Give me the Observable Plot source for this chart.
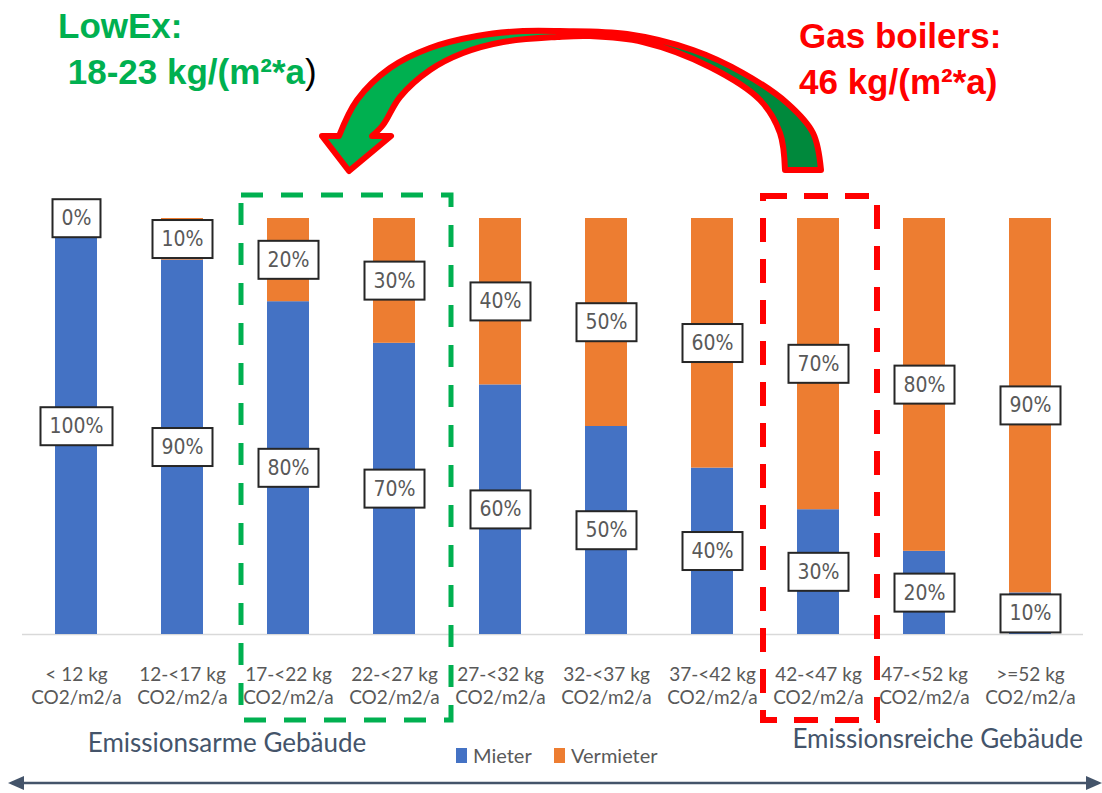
<!DOCTYPE html>
<html>
<head>
<meta charset="utf-8">
<script src="https://cdn.jsdelivr.net/npm/d3@7"></script>
<script src="https://cdn.jsdelivr.net/npm/@observablehq/plot@0.6"></script>
<style>
  body { margin: 0; background: #fff; }
  #chart svg { display: block; }
</style>
</head>
<body>
<div id="chart"></div>
<script>
// Emission classes (kg CO2 per m² and year)
const categories = [
  "< 12 kg CO2/m2/a", "12-<17 kg CO2/m2/a", "17-<22 kg CO2/m2/a", "22-<27 kg CO2/m2/a",
  "27-<32 kg CO2/m2/a", "32-<37 kg CO2/m2/a", "37-<42 kg CO2/m2/a", "42-<47 kg CO2/m2/a",
  "47-<52 kg CO2/m2/a", ">=52 kg CO2/m2/a"
];
// Share of the CO2 cost carried by tenants (Mieter) and landlords (Vermieter), in %
const mieter    = [100, 90, 80, 70, 60, 50, 40, 30, 20, 10];
const vermieter = [0, 10, 20, 30, 40, 50, 60, 70, 80, 90];

const seriesNames  = ["Mieter", "Vermieter"];
const seriesColors = ["#4472c4", "#ed7d31"];

const lowLabel  = "Emissionsarme Gebäude";
const highLabel = "Emissionsreiche Gebäude";
const lowExTitle = ["LowEx:", " 18-23 kg/(m²*a"];
const gasTitle   = ["Gas boilers:", "46 kg/(m²*a)"];
const lowExRange  = [categories[2], categories[3]];
const gasCategory = categories[7];

const rows = categories.flatMap((cat, i) => [
  {cat, series: seriesNames[0], value: mieter[i]},
  {cat, series: seriesNames[1], value: vermieter[i]}
]);

const W = 1102, H = 793;
const labelFont = "'Liberation Sans Narrow', 'DejaVu Sans Condensed', Lato, sans-serif";

const plot = Plot.plot({
  width: W,
  height: H,
  marginTop: 218,
  marginBottom: 159,
  marginLeft: 22,
  marginRight: 19,
  style: {background: "#fff", overflow: "visible", fontFamily: "Lato, sans-serif"},
  x: {domain: categories, padding: 0, axis: null},
  y: {domain: [0, 100], axis: null},
  color: {domain: seriesNames, range: seriesColors},
  marks: [
    Plot.ruleY([0], {stroke: "#d9d9d9", strokeWidth: 1.5}),
    Plot.barY(rows, Plot.stackY({x: "cat", y: "value", fill: "series", insetLeft: 32, insetRight: 32})),
    Plot.text(rows, Plot.stackY({
      x: "cat", y: "value", text: d => d.value + "%",
      fontSize: 21, fill: "#595959", fontFamily: labelFont
    })),
    Plot.text(categories, {
      x: d => d,
      text: d => d.replace(" CO2", "\nCO2"),
      frameAnchor: "bottom", lineAnchor: "top", dy: 30,
      fontSize: 19, lineHeight: 1.21, fill: "#595959", fontFamily: "Lato, sans-serif"
    })
  ]
});

document.getElementById("chart").append(plot);

const svg = d3.select(plot);
const xs = plot.scale("x");
const ys = plot.scale("y");
const x = v => xs.apply(v);
const y = v => ys.apply(v);
const bw = xs.bandwidth;

// white boxes behind the percentage labels (same transform as each label)
svg.selectAll("text").filter(function() {
  return /%$/.test(this.textContent) && this.children.length === 0;
}).each(function() {
  const b = this.getBBox();
  const cy = b.y + b.height / 2;
  d3.select(this.parentNode).insert("rect", () => this)
    .attr("transform", this.getAttribute("transform"))
    .attr("x", b.x - 9).attr("width", b.width + 18)
    .attr("y", cy - 19).attr("height", 38)
    .attr("fill", "#fff").attr("stroke", "#262626").attr("stroke-width", 2);
});

const ann = svg.append("g").attr("text-anchor", "start");

// dashed frames around the LowEx range and the gas boiler class
ann.append("rect")
  .attr("x", x(lowExRange[0]) + 6).attr("y", y(100) - 23)
  .attr("width", x(lowExRange[1]) + bw + 4 - (x(lowExRange[0]) + 6))
  .attr("height", y(0) + 86 - (y(100) - 23))
  .attr("fill", "none").attr("stroke", "#00b050").attr("stroke-width", 5)
  .attr("stroke-dasharray", "22 18");
ann.append("rect")
  .attr("x", x(gasCategory) - 2).attr("y", y(100) - 22)
  .attr("width", bw + 8)
  .attr("height", y(0) + 86 - (y(100) - 22))
  .attr("fill", "none").attr("stroke", "#ff0000").attr("stroke-width", 6)
  .attr("stroke-dasharray", "24 17");

// curved arrow from the gas boiler class to the LowEx range
const defs = svg.append("defs");
const grad = defs.append("linearGradient").attr("id", "arrowGreen")
  .attr("gradientUnits", "userSpaceOnUse").attr("x1", 320).attr("x2", 822).attr("y1", 0).attr("y2", 0);
grad.append("stop").attr("offset", 0).attr("stop-color", "#00b050");
grad.append("stop").attr("offset", 0.55).attr("stop-color", "#00b050");
grad.append("stop").attr("offset", 0.6).attr("stop-color", "#00893c");
grad.append("stop").attr("offset", 1).attr("stop-color", "#00893c");

const outer = [[821, 170], [813, 133], [787, 103], [743, 73], [693, 50], [627, 34], [560, 31],
               [523, 31], [477, 36], [430, 48], [390, 68], [357, 100], [339, 136]];
const inner = [[372, 136], [383, 125], [400, 97], [430, 70], [463, 53], [503, 42], [557, 37],
               [590, 36], [643, 42], [710, 67], [760, 100], [780, 133], [785, 170]];
const curve = d3.line().curve(d3.curveCatmullRom.alpha(0.5));
const arrowD = curve(outer)
  + "L322,136L349,171L391,136"
  + curve(inner).replace(/^M/, "L") + "Z";
ann.append("path").attr("d", arrowD)
  .attr("fill", "url(#arrowGreen)").attr("stroke", "#ff0000")
  .attr("stroke-width", 6).attr("stroke-linejoin", "round");

// titles
const tf = "'Liberation Sans', Arial, sans-serif";
ann.append("text").attr("x", 58).attr("y", 38).text(lowExTitle[0])
  .attr("font-family", tf).attr("font-weight", "bold").attr("font-size", 35).attr("fill", "#00b050");
const t2 = ann.append("text").attr("x", 58).attr("y", 84)
  .attr("font-family", tf).attr("font-weight", "bold").attr("font-size", 35)
  .attr("xml:space", "preserve").style("white-space", "pre");
t2.append("tspan").attr("fill", "#00b050").text(lowExTitle[1]);
t2.append("tspan").attr("fill", "#000").attr("font-weight", "normal").text(")");
ann.append("text").attr("x", 799).attr("y", 48).text(gasTitle[0])
  .attr("font-family", tf).attr("font-weight", "bold").attr("font-size", 35).attr("fill", "#ff0000");
ann.append("text").attr("x", 799).attr("y", 94).text(gasTitle[1])
  .attr("font-family", tf).attr("font-weight", "bold").attr("font-size", 35).attr("fill", "#ff0000");

// group captions
ann.append("text").attr("x", x(categories[1]) + bw / 2 + 45).attr("y", 752)
  .attr("text-anchor", "middle").text(lowLabel)
  .attr("font-family", "Lato, sans-serif").attr("font-size", 26).attr("fill", "#44546a");
ann.append("text").attr("x", x(categories[9]) + bw).attr("y", 748)
  .attr("text-anchor", "end").text(highLabel)
  .attr("font-family", "Lato, sans-serif").attr("font-size", 26).attr("fill", "#44546a");

// legend
const legend = ann.append("g").attr("font-family", "Lato, sans-serif").attr("font-size", 20).attr("fill", "#595959");
const legendX = [456, 554];
seriesNames.forEach((name, i) => {
  legend.append("rect").attr("x", legendX[i]).attr("y", 748).attr("width", 11).attr("height", 15)
    .attr("fill", seriesColors[i]);
  legend.append("text").attr("x", legendX[i] + 17).attr("y", 763).text(name);
});

// double-headed arrow along the bottom
const axisY = 783;
ann.append("line").attr("x1", 16).attr("x2", W - 10).attr("y1", axisY).attr("y2", axisY)
  .attr("stroke", "#44546a").attr("stroke-width", 2.5);
ann.append("path").attr("d", `M8,${axisY}L24,${axisY - 7}L24,${axisY + 7}Z`).attr("fill", "#44546a");
ann.append("path").attr("d", `M${W},${axisY}L${W - 16},${axisY - 7}L${W - 16},${axisY + 7}Z`).attr("fill", "#44546a");
</script>
</body>
</html>
